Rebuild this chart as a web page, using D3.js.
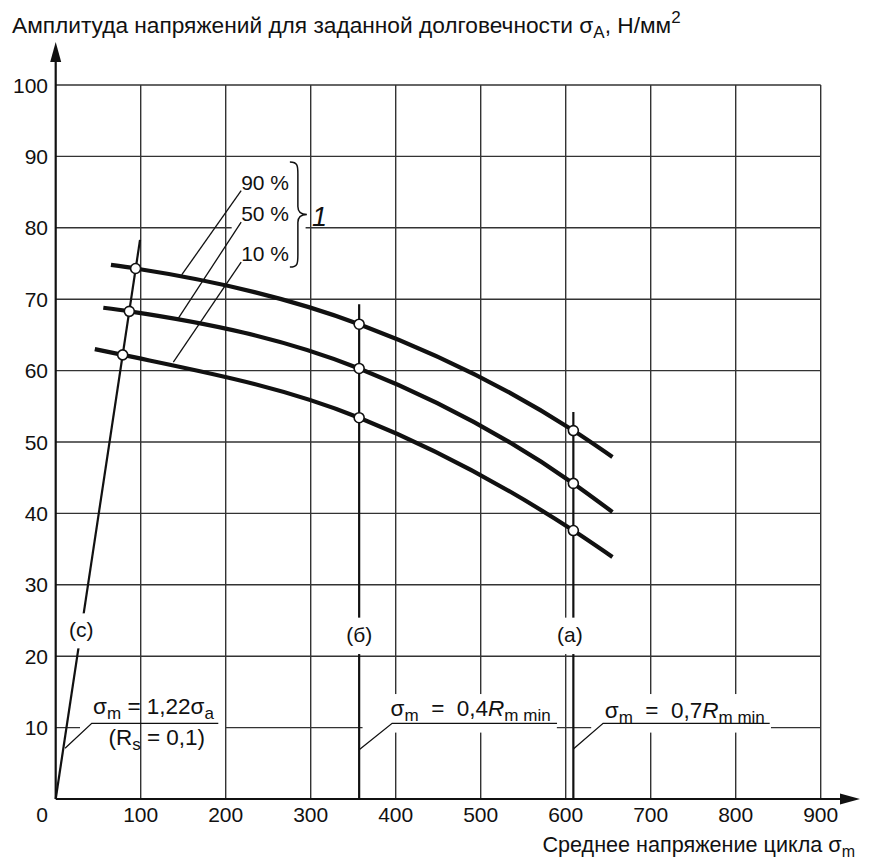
<!DOCTYPE html>
<html>
<head>
<meta charset="utf-8">
<script src="https://cdn.jsdelivr.net/npm/d3@7"></script>
<style>
body{margin:0;background:#fff;}
text{font-family:"Liberation Sans",Arial,sans-serif;fill:#111;}
</style>
</head>
<body>
<div id="chart"></div>
<script>
// tick values
var xTicks = [100, 200, 300, 400, 500, 600, 700, 800, 900];
var yTicks = [10, 20, 30, 40, 50, 60, 70, 80, 90, 100];

// curves (sigma_m, sigma_A)
var curveLabels = ['90 %', '50 %', '10 %'];
var curve90 = [[65, 74.8], [94, 74.3], [357, 66.5], [609, 51.6], [655, 47.9]];
var curve50 = [[56, 68.8], [86.6, 68.3], [357, 60.3], [609, 44.2], [655, 40.2]];
var curve10 = [[46, 63.0], [78.8, 62.2], [357, 53.4], [609, 37.6], [655, 33.9]];

// straight lines (c), (б), (a)
var lineC = [[0, 0], [99.2, 78.3]];
var lineB = [[357, 0], [357, 69.3]];
var lineA = [[609, 0], [609, 54.2]];

// leaders from the legend text to the curves
var legendLeaders = [
    [[218.2, 85.2], [148.2, 73.4]],
    [[218.2, 80.8], [144.2, 67.3]],
    [[218.2, 75.2], [138.4, 61.2]]
];
// leaders of the formula notes
var noteC = [[11, 7.1], [42.4, 10.6], [191.3, 10.6]];
var noteB = [[357, 6.9], [395.8, 10.6], [589.8, 10.6]];
var noteA = [[609, 7.0], [644, 10.6], [840, 10.6]];

var W = 876, H = 861;
var svg = d3.select('#chart').append('svg')
    .attr('width', W)
    .attr('height', H);

var x = d3.scaleLinear().domain([0, 900]).range([55.7, 820.7]);
var y = d3.scaleLinear().domain([0, 100]).range([799, 85]);
var line = d3.line()
    .x(function(d){ return x(d[0]); })
    .y(function(d){ return y(d[1]); });
var smooth = d3.line()
    .x(function(d){ return x(d[0]); })
    .y(function(d){ return y(d[1]); })
    .curve(d3.curveMonotoneX);

function mask(g, x1, x2, y1, y2){
    g.append('rect')
	.attr('x', x(x1))
	.attr('y', y(y2))
	.attr('width', x(x2) - x(x1))
	.attr('height', y(y1) - y(y2))
	.attr('fill', '#fff');
}

// horizontal grid
svg.append('g')
    .selectAll('line')
    .data(yTicks)
    .enter()
    .append('line')
    .attr('x1', x(0))
    .attr('x2', x(900))
    .attr('y1', function(d){ return y(d); })
    .attr('y2', function(d){ return y(d); })
    .attr('stroke', '#333')
    .attr('stroke-width', 1.4);

var m1 = svg.append('g');
mask(m1, 28.6, 199.6, 9.5, 10.4);   // under 1,22 note
mask(m1, 207, 294, 74.4, 88.8);     // legend block

// vertical grid
svg.append('g')
    .selectAll('line')
    .data(xTicks)
    .enter()
    .append('line')
    .attr('x1', function(d){ return x(d); })
    .attr('x2', function(d){ return x(d); })
    .attr('y1', y(0))
    .attr('y2', y(100))
    .attr('stroke', '#333')
    .attr('stroke-width', 1.4);

var m2 = svg.append('g');
mask(m2, 361, 589.6, 9.3, 14.7);
mask(m2, 630, 841.5, 9.3, 14.7);

// axes with arrows
svg.append('line')
    .attr('x1', x(0)).attr('x2', x(0))
    .attr('y1', y(0)).attr('y2', 50)
    .attr('stroke', '#111').attr('stroke-width', 2.2);
svg.append('path')
    .attr('d', 'M' + x(0) + ',42 l-5.5,20 l11,0 z')
    .attr('fill', '#111');
svg.append('line')
    .attr('x1', x(0)).attr('x2', 852)
    .attr('y1', y(0)).attr('y2', y(0))
    .attr('stroke', '#111').attr('stroke-width', 2.2);
svg.append('path')
    .attr('d', 'M860,' + y(0) + ' l-20,-5.5 l0,11 z')
    .attr('fill', '#111');

// tick labels
svg.append('g')
    .selectAll('text')
    .data(yTicks)
    .enter()
    .append('text')
    .attr('x', 48)
    .attr('y', function(d){ return y(d) + 7.5; })
    .attr('text-anchor', 'end')
    .attr('font-size', 21)
    .text(function(d){ return d; });
svg.append('g')
    .selectAll('text')
    .data(xTicks)
    .enter()
    .append('text')
    .attr('x', function(d){ return x(d); })
    .attr('y', 822)
    .attr('text-anchor', 'middle')
    .attr('font-size', 21)
    .text(function(d){ return d; });
svg.append('text')
    .attr('x', 42).attr('y', 822)
    .attr('text-anchor', 'middle')
    .attr('font-size', 21)
    .text('0');

// (c), (б), (a) lines
svg.append('g')
    .selectAll('path')
    .data([lineC, lineB, lineA])
    .enter()
    .append('path')
    .attr('d', line)
    .attr('fill', 'none')
    .attr('stroke', '#111')
    .attr('stroke-width', 2.2);

var lineLabels = [['(c)', 30, 23.6, 21.1, 26.0], ['(б)', 357, 22.9, 20.3, 25.4], ['(a)', 605, 22.9, 20.3, 25.4]];
var ll = svg.append('g');
lineLabels.forEach(function(l){
    mask(ll, l[1] - 12, l[1] + 12, l[3], l[4]);
    ll.append('text')
	.attr('x', x(l[1]))
	.attr('y', y(l[2]) + 7)
	.attr('text-anchor', 'middle')
	.attr('font-size', 21)
	.text(l[0]);
});

// curves
svg.append('g')
    .selectAll('path')
    .data([curve90, curve50, curve10])
    .enter()
    .append('path')
    .attr('d', smooth)
    .attr('fill', 'none')
    .attr('stroke', '#111')
    .attr('stroke-width', 4.2)
    .attr('stroke-linecap', 'butt');

// circles where the curves cross the lines
var circlePts = [];
[curve90, curve50, curve10].forEach(function(c){
    circlePts = circlePts.concat(c.slice(1, 4));
});
svg.append('g')
    .selectAll('circle')
    .data(circlePts)
    .enter()
    .append('circle')
    .attr('cx', function(d){ return x(d[0]); })
    .attr('cy', function(d){ return y(d[1]); })
    .attr('r', 5)
    .attr('fill', '#fff')
    .attr('stroke', '#111')
    .attr('stroke-width', 1.6);

// leader lines
svg.append('g')
    .selectAll('path')
    .data(legendLeaders.concat([noteC, noteB, noteA]))
    .enter()
    .append('path')
    .attr('d', line)
    .attr('fill', 'none')
    .attr('stroke', '#111')
    .attr('stroke-width', 1.3);

// legend text
svg.append('g')
    .selectAll('text')
    .data(curveLabels)
    .enter()
    .append('text')
    .attr('x', function(d, i){ return x(legendLeaders[i][0][0]); })
    .attr('y', function(d, i){ return y(legendLeaders[i][0][1]) - 1; })
    .attr('font-size', 21)
    .text(function(d){ return d; });

// brace and "1"
var bx = x(275.5), bt = y(89.2), bb = y(74.5), bm = (bt + bb) / 2;
svg.append('path')
    .attr('d', 'M' + bx + ',' + bt +
	  ' C' + (bx + 8) + ',' + bt + ' ' + (bx + 8) + ',' + (bt + 4) + ' ' + (bx + 8) + ',' + (bt + 12) +
	  ' L' + (bx + 8) + ',' + (bm - 8) +
	  ' C' + (bx + 8) + ',' + (bm - 2) + ' ' + (bx + 12) + ',' + bm + ' ' + (bx + 17) + ',' + bm +
	  ' C' + (bx + 12) + ',' + bm + ' ' + (bx + 8) + ',' + (bm + 2) + ' ' + (bx + 8) + ',' + (bm + 8) +
	  ' L' + (bx + 8) + ',' + (bb - 12) +
	  ' C' + (bx + 8) + ',' + (bb - 4) + ' ' + (bx + 8) + ',' + bb + ' ' + bx + ',' + bb)
    .attr('fill', 'none')
    .attr('stroke', '#111')
    .attr('stroke-width', 1.5);
svg.append('text')
    .attr('x', bx + 22)
    .attr('y', bm + 11)
    .attr('font-size', 27)
    .attr('font-style', 'italic')
    .text('1');

// formula notes
function note(tx, ty, parts){
    var t = svg.append('text')
	.attr('x', x(tx))
	.attr('y', y(ty))
	.attr('font-size', 22.5)
	.style('white-space', 'pre');
    parts.forEach(function(p){
	var s = t.append('tspan').text(p[0]);
	if(p[1] == 'sub'){
	    s.attr('font-size', 17).attr('dy', 5);
	}
	else if(p[1] == 'back'){
	    s.attr('dy', -5);
	}
	if(p[2] == 'i'){
	    s.attr('font-style', 'italic');
	}
    });
}
note(44, 11.9, [['σ'], ['m', 'sub'], [' = 1,22σ', 'back'], ['a', 'sub']]);
note(62, 7.5, [['(R'], ['s', 'sub'], [' = 0,1)', 'back']]);
note(394, 11.6, [['σ'], ['m', 'sub'], ['  =  0,4', 'back'], ['R', '', 'i'], ['m min', 'sub']]);
note(646, 11.4, [['σ'], ['m', 'sub'], ['  =  0,7', 'back'], ['R', '', 'i'], ['m min', 'sub']]);

// axis titles
var ty = svg.append('text')
    .attr('x', 12).attr('y', 33)
    .attr('font-size', 22.7);
ty.append('tspan').text('Амплитуда напряжений для заданной долговечности σ');
ty.append('tspan').text('A').attr('font-size', 17).attr('dy', 5);
ty.append('tspan').text(', Н/мм').attr('dy', -5);
ty.append('tspan').text('2').attr('font-size', 17).attr('dy', -10);

var tx = svg.append('text')
    .attr('x', 855).attr('y', 852)
    .attr('text-anchor', 'end')
    .attr('font-size', 21.6);
tx.append('tspan').text('Среднее напряжение цикла σ');
tx.append('tspan').text('m').attr('font-size', 16).attr('dy', 5);
</script>
</body>
</html>
